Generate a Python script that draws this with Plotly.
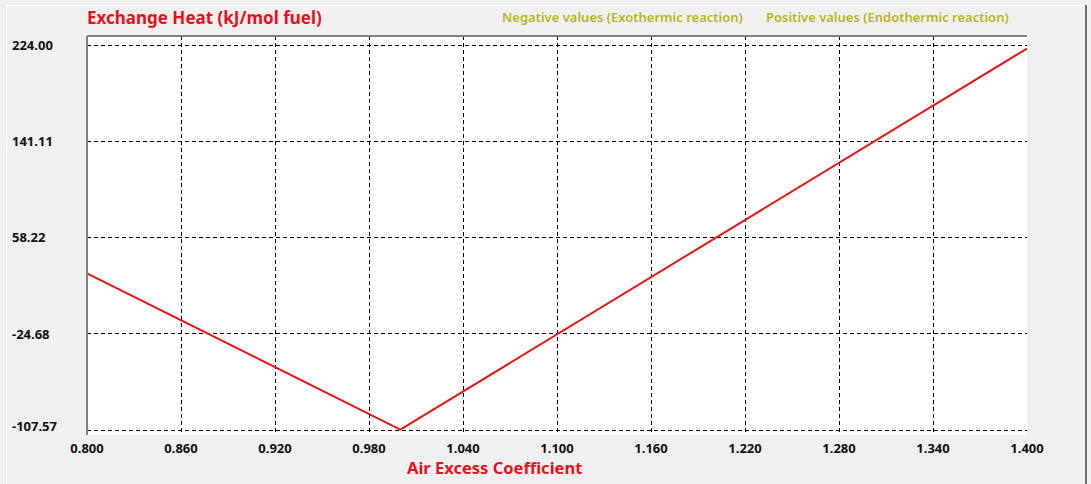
import plotly.graph_objects as go

# Data
air_excess = [0.800, 1.000, 1.400]
exchange_heat = [27.4, -107.3, 221.0]

x_ticks = [0.800, 0.860, 0.920, 0.980, 1.040, 1.100, 1.160, 1.220, 1.280, 1.340, 1.400]
x_tick_labels = [f"{v:.3f}" for v in x_ticks]
y_ticks = [224.00, 141.11, 58.22, -24.68, -107.57]
y_tick_labels = [f"{v:.2f}" for v in y_ticks]

W, H = 1091, 484
L, R, T, B = 87, 64, 36, 49
PW, PH = W - L - R, H - T - B

def px_x(p):
    return (p - L) / PW

def px_y(p):
    return (H - B - p) / PH

RED = "#e3121b"
OLIVE = "#b8b41e"
TICKFONT = dict(family="Noto Sans", size=13, color="#111111", weight="bold")

fig = go.Figure()
fig.add_trace(go.Scatter(x=air_excess, y=exchange_heat, mode="lines",
                         line=dict(color="#e01818", width=2), showlegend=False,
                         hoverinfo="skip"))

annotations = []
for v, lab in zip(y_ticks, y_tick_labels):
    annotations.append(dict(x=px_x(12), xref="paper", y=v, yref="y", text=lab,
                            showarrow=False, xanchor="left", yanchor="middle",
                            xshift=-2, yshift=(4 if v == y_ticks[-1] else 0),
                            font=TICKFONT))
annotations += [
    dict(x=0, xref="paper", y=px_y(18), yref="paper", text="Exchange Heat (kJ/mol fuel)",
         showarrow=False, xanchor="left", yanchor="middle", xshift=-2,
         font=dict(family="Noto Sans", size=17, color=RED, weight="bold")),
    dict(x=px_x(502), xref="paper", y=px_y(17), yref="paper",
         text="Negative values (Exothermic reaction)", showarrow=False,
         xanchor="left", yanchor="middle", xshift=-2,
         font=dict(family="Noto Sans", size=13, color=OLIVE, weight=600)),
    dict(x=px_x(766), xref="paper", y=px_y(17), yref="paper",
         text="Positive values (Endothermic reaction)", showarrow=False,
         xanchor="left", yanchor="middle", xshift=-2,
         font=dict(family="Noto Sans", size=13, color=OLIVE, weight=600)),
    dict(x=px_x(494), xref="paper", y=px_y(467), yref="paper",
         text="Air Excess Coefficient", showarrow=False,
         xanchor="center", yanchor="middle",
         font=dict(family="Noto Sans", size=16.5, color=RED, weight="bold")),
]

shapes = [
    # outer panel frame
    dict(type="line", xref="paper", yref="paper", x0=px_x(6), x1=px_x(1086),
         y0=px_y(5.5), y1=px_y(5.5), line=dict(color="#ffffff", width=1)),
    dict(type="line", xref="paper", yref="paper", x0=px_x(6.5), x1=px_x(6.5),
         y0=px_y(5), y1=px_y(484), line=dict(color="#ffffff", width=1)),
    dict(type="line", xref="paper", yref="paper", x0=px_x(1086), x1=px_x(1086),
         y0=px_y(5), y1=px_y(484), line=dict(color="#707070", width=2)),
    # plot border (top & left)
    dict(type="line", xref="paper", yref="paper", x0=0, x1=1, y0=1, y1=1,
         line=dict(color="#808080", width=2)),
    dict(type="line", xref="paper", yref="paper", x0=0, x1=0, y0=0, y1=1,
         line=dict(color="#808080", width=2)),
]

ytop = 224.00 + 9 * (224.00 - (-107.57)) / 385
ybot = ytop - PH * (224.00 - (-107.57)) / 385

fig.update_layout(
    width=W, height=H,
    margin=dict(l=L, r=R, t=T, b=B),
    paper_bgcolor="#f0f0f0", plot_bgcolor="#ffffff",
    annotations=annotations, shapes=shapes,
    xaxis=dict(range=[0.8, 1.4], tickvals=x_ticks, ticktext=x_tick_labels,
               showgrid=True, gridcolor="#000000", gridwidth=1, griddash="4px,3px",
               zeroline=False, showline=False, ticks="", tickfont=TICKFONT,
               ticklabelstandoff=4, fixedrange=True),
    yaxis=dict(range=[ybot, ytop], tickvals=y_ticks, showticklabels=False,
               showgrid=True, gridcolor="#000000", gridwidth=1, griddash="4px,3px",
               zeroline=False, showline=False, ticks="", fixedrange=True),
)

fig.write_html("out.html", config={"displayModeBar": False},
               post_script="document.body.style.margin='0';document.body.style.background='#f0f0f0';")
